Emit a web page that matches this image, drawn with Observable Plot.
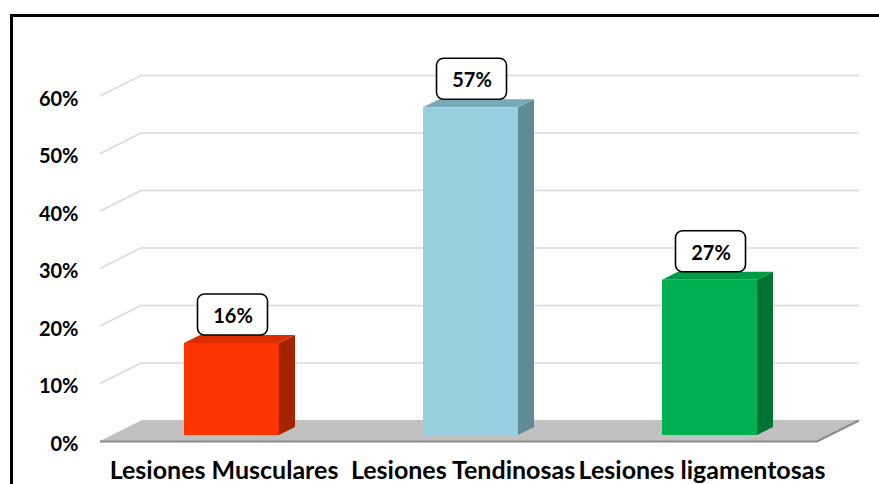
<!DOCTYPE html>
<html><head><meta charset="utf-8">
<script src="https://cdn.jsdelivr.net/npm/d3@7"></script>
<script src="https://cdn.jsdelivr.net/npm/@observablehq/plot@0.6"></script>
<style>
html,body{margin:0;padding:0;background:#fff;overflow:hidden}
#wrap{position:relative;width:879px;height:484px}
#frame{position:absolute;left:9.5px;top:14px;width:900px;height:500px;border-left:3px solid #000;border-top:3px solid #000;box-sizing:border-box;pointer-events:none}
svg{display:block}
</style></head><body><div id="wrap"><div id="chart"></div><div id="frame"></div></div>
<script>
const categories = ["Lesiones Musculares", "Lesiones Tendinosas", "Lesiones ligamentosas"];
const values = [16, 57, 27];
const valueLabels = ["16%", "57%", "27%"];
const frontColors = ["#FF3500", "#97CFE0", "#00B050"];
const sideColors = ["#A52400", "#5F8B96", "#007533"];
const topColors = ["#DC2E00", "#78A9B6", "#009C45"];
const yTicks = [0, 10, 20, 30, 40, 50, 60];
const yTickLabels = ["0%", "10%", "20%", "30%", "40%", "50%", "60%"];

const data = categories.map((c, i) => ({category: c, value: values[i], label: valueLabels[i], front: frontColors[i], side: sideColors[i], top: topColors[i]}));
const ticks = yTicks.map((t, i) => ({t, label: yTickLabels[i]}));

// style constants (pixels)
const FLOOR_DX = 42, FLOOR_DY = -21;
const BAR_DX = 12, BAR_DY = -6;
const DEPTH_DX = 16, DEPTH_DY = -8;
const INSET = 72;
const FONT = "Lato, 'Open Sans', sans-serif";

function scene(index, scales, values, dim, context) {
  const sx = scales.x, sy = scales.y;
  const bw = typeof sx.bandwidth === "function" ? sx.bandwidth() : sx.bandwidth;
  const left = dim.marginLeft, right = dim.width - dim.marginRight;
  const g = d3.create("svg:g");
  // diagonal grid segments (side wall)
  for (const t of yTicks) {
    if (t === 0) continue;
    const y = sy(t);
    g.append("line").attr("x1", left).attr("y1", y).attr("x2", left + FLOOR_DX).attr("y2", y + FLOOR_DY)
      .attr("stroke", "#d9d9d9").attr("stroke-width", 1.5);
  }
  // floor
  const y0 = sy(0);
  g.append("path").attr("d", `M${left},${y0}L${right},${y0}L${right + FLOOR_DX},${y0 + FLOOR_DY}L${left + FLOOR_DX},${y0 + FLOOR_DY}Z`)
    .attr("fill", "#c0c0c0");
  g.append("path").attr("d", `M${left},${y0 + 0.5}L${right},${y0 + 0.5}L${right + FLOOR_DX},${y0 + FLOOR_DY + 0.5}`)
    .attr("fill", "none").attr("stroke", "#8a8a8a").attr("stroke-width", 2);
  // bar side & top faces, label boxes
  for (const d of data) {
    const x0 = sx(d.category) + INSET + BAR_DX;
    const x1 = sx(d.category) + bw - INSET + BAR_DX;
    const yb = sy(0) + BAR_DY, yt = sy(d.value) + BAR_DY;
    g.append("path").attr("d", `M${x1},${yt}L${x1 + DEPTH_DX},${yt + DEPTH_DY}L${x1 + DEPTH_DX},${yb + DEPTH_DY}L${x1},${yb}Z`).attr("fill", d.side);
    g.append("path").attr("d", `M${x0},${yt}L${x0 + DEPTH_DX},${yt + DEPTH_DY}L${x1 + DEPTH_DX},${yt + DEPTH_DY}L${x1},${yt}Z`).attr("fill", d.top);
    const cx = (x0 + x1) / 2 + 1;
    const bh = 41, bwid = 70;
    g.append("rect").attr("x", cx - bwid / 2).attr("y", yt + DEPTH_DY - bh).attr("width", bwid).attr("height", bh)
      .attr("rx", 7).attr("fill", "#fff").attr("stroke", "#000").attr("stroke-width", 1.6);
  }
  return g.node();
}

const chart = Plot.plot({
  width: 879,
  height: 484,
  marginLeft: 100,
  marginRight: 62,
  marginTop: 96,
  marginBottom: 43,
  x: {type: "band", domain: categories, padding: 0, axis: null},
  y: {domain: [0, 60], axis: null},
  style: {fontFamily: FONT, background: "#fff", overflow: "visible"},
  marks: [
    Plot.ruleY(yTicks.filter(t => t > 0), {stroke: "#d9d9d9", strokeWidth: 1.5, dx: FLOOR_DX, dy: FLOOR_DY}),
    scene,
    Plot.barY(data, {x: "category", y: "value", fill: "front", insetLeft: INSET, insetRight: INSET, dx: BAR_DX, dy: BAR_DY}),
    Plot.text(data, {x: "category", y: "value", text: "label", dx: BAR_DX + 1, dy: BAR_DY + DEPTH_DY - 19, fontSize: 20, fontWeight: "bold", fill: "#000"}),
    Plot.text(ticks, {y: "t", text: "label", frameAnchor: "left", textAnchor: "end", dx: -22, dy: 3, fontSize: 20, fontWeight: "bold", fill: "#000"}),
    Plot.text(data, {x: "category", text: "category", frameAnchor: "bottom", lineAnchor: "top", dy: 20, dx: 4, fontSize: 25, fontWeight: "bold", fill: "#000"})
  ]
});
document.getElementById("chart").appendChild(chart);
</script></body></html>
